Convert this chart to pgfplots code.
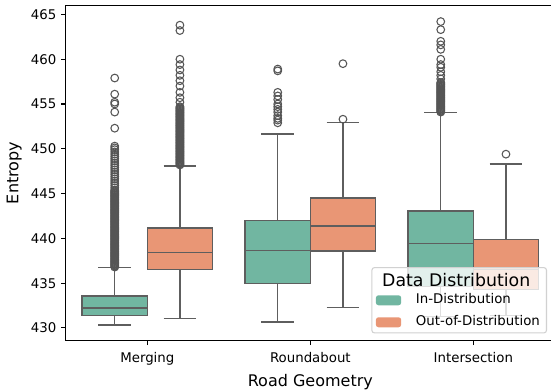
\documentclass[border=0pt]{standalone}
\usepackage{fontspec}
\setmainfont{DejaVu Sans}
\usepackage{pgfplots}
\pgfplotsset{compat=1.18}
\definecolor{idcol}{HTML}{71B6A1}
\definecolor{oodcol}{HTML}{E99675}
\definecolor{edgecol}{HTML}{5E5E5E}
\definecolor{flcol}{HTML}{555555}
% box: x0, x1, q1, median, q3, colour
\newcommand{\bxbox}[6]{%
  \addplot[draw=edgecol, line width=1.1pt, fill=#6, forget plot] coordinates {(#1,#3) (#2,#3) (#2,#5) (#1,#5)} -- cycle;
  \addplot[draw=edgecol, line width=1.1pt, forget plot] coordinates {(#1,#4) (#2,#4)};
}
% whiskers: centre, cap left, cap right, lower whisker, q1, q3, upper whisker
\newcommand{\bxwh}[7]{%
  \addplot[draw=edgecol, line width=1.1pt, forget plot] coordinates {(#1,#4) (#1,#5)};
  \addplot[draw=edgecol, line width=1.1pt, forget plot] coordinates {(#1,#6) (#1,#7)};
  \addplot[draw=edgecol, line width=1.1pt, forget plot] coordinates {(#2,#4) (#3,#4)};
  \addplot[draw=edgecol, line width=1.1pt, forget plot] coordinates {(#2,#7) (#3,#7)};
}
\pgfplotsset{
  fl/.style={only marks, mark=o, mark size=2.9pt, draw=flcol,
    mark options={draw=flcol, line width=0.8pt, solid}, forget plot},
}
\begin{document}
\begin{tikzpicture}
\begin{axis}[name=ax, at={(0,0)}, anchor=south west, scale only axis,
  width=366.75pt, height=251.25pt,
  xmin=-0.5, xmax=2.5, ymin=428.6, ymax=466.0,
  xtick={0,1,2}, xticklabels={Merging,Roundabout,Intersection},
  ytick={430,435,...,465},
  tick pos=left, tick align=outside, major tick length=3.5pt,
  tick style={black, line width=0.8pt},
  axis line style={black, line width=0.8pt},
  ticklabel style={font=\fontsize{10}{12}\selectfont},
  xticklabel style={yshift=-1.5pt},
  /pgf/number format/assume math mode=true,
  xlabel={Road Geometry}, ylabel={Entropy},
  label style={font=\fontsize{12}{14}\selectfont},
  legend image code/.code={\fill[#1, draw=none, fill opacity=1] (0pt,-3.75pt) rectangle (19pt,3.75pt);},
  legend style={at={(axis description cs:0.984,0.021)}, anchor=south east,
    draw=black!18, line width=0.8pt, rounded corners=2pt, fill=white, fill opacity=0.8, text opacity=1,
    inner xsep=3pt, inner ysep=3pt, row sep=6.5pt, column sep=9pt,
    nodes={inner ysep=0pt, text height=7.5pt, text depth=2.5pt},
    font=\fontsize{10}{12}\selectfont},
  legend cell align=left,
]
% ---------- Merging ----------
\bxwh{-0.2}{-0.3}{-0.1}{430.33}{431.41}{433.56}{436.72}
\bxbox{-0.4}{0.0}{431.41}{432.22}{433.56}{idcol}
\addplot[fl] table[row sep=\\, x expr=-0.2, y index=0]{v\\
436.8\\436.9\\437.0\\437.1\\437.2\\437.3\\437.4\\437.5\\437.6\\437.7\\437.8\\437.9\\
438.0\\438.1\\438.2\\438.3\\438.4\\438.5\\438.6\\438.7\\438.8\\438.9\\
439.0\\439.1\\439.2\\439.3\\439.4\\439.5\\439.6\\439.7\\439.8\\439.9\\
440.0\\440.1\\440.2\\440.3\\440.4\\440.5\\440.6\\440.7\\440.8\\440.9\\
441.0\\441.1\\441.2\\441.3\\441.4\\441.5\\441.6\\441.7\\441.8\\441.9\\
442.0\\442.1\\442.2\\442.3\\442.4\\442.5\\442.6\\442.7\\442.8\\442.9\\
443.0\\443.1\\443.2\\443.3\\443.4\\443.5\\443.6\\443.7\\443.8\\443.9\\
444.0\\444.1\\444.2\\444.3\\444.4\\444.5\\444.6\\444.7\\444.8\\444.9\\
445.0\\445.1\\445.2\\445.3\\445.4\\
445.65\\445.9\\446.15\\446.4\\446.65\\446.9\\447.15\\447.4\\447.65\\447.9\\448.15\\448.4\\448.65\\448.9\\
449.15\\449.4\\449.65\\449.9\\450.1\\450.3\\
452.3\\454.1\\455.0\\455.2\\456.1\\457.9\\};
\bxwh{0.2}{0.1}{0.3}{431.07}{436.54}{441.18}{448.09}
\bxbox{0.0}{0.4}{436.54}{438.43}{441.18}{oodcol}
\addplot[fl] table[row sep=\\, x expr=0.2, y index=0]{v\\
448.2\\448.3\\448.4\\448.5\\448.6\\448.7\\448.8\\448.9\\
449.0\\449.1\\449.2\\449.3\\449.4\\449.5\\449.6\\449.7\\449.8\\449.9\\
450.0\\450.1\\450.2\\450.3\\450.4\\450.5\\450.6\\450.7\\450.8\\450.9\\
451.0\\451.1\\451.2\\451.3\\451.4\\451.5\\451.6\\451.7\\451.8\\451.9\\
452.0\\452.1\\452.2\\452.3\\452.4\\452.5\\452.6\\452.7\\452.8\\452.9\\
453.0\\453.1\\453.2\\453.3\\453.4\\453.5\\453.6\\453.7\\453.8\\453.9\\
454.0\\454.1\\454.2\\454.3\\454.4\\454.5\\454.6\\454.7\\
455.2\\455.7\\456.3\\457.0\\457.6\\458.2\\458.8\\459.4\\460.0\\463.2\\463.8\\};
% ---------- Roundabout ----------
\bxwh{0.8}{0.7}{0.9}{430.66}{434.98}{442.0}{451.66}
\bxbox{0.6}{1.0}{434.98}{438.66}{442.0}{idcol}
\addplot[fl] table[row sep=\\, x expr=0.8, y index=0]{v\\
452.9\\453.2\\453.4\\453.7\\454.1\\454.4\\454.7\\455.0\\455.5\\455.9\\456.3\\458.7\\458.9\\};
\bxwh{1.2}{1.1}{1.3}{432.3}{438.61}{444.52}{452.96}
\bxbox{1.0}{1.4}{438.61}{441.4}{444.52}{oodcol}
\addplot[fl] table[row sep=\\, x expr=1.2, y index=0]{v\\
453.3\\459.5\\};
% ---------- Intersection ----------
\bxwh{1.8}{1.7}{1.9}{431.3}{434.6}{443.07}{454.04}
\bxbox{1.6}{2.0}{434.6}{439.4}{443.07}{idcol}
\addplot[fl] table[row sep=\\, x expr=1.8, y index=0]{v\\
454.1\\454.2\\454.3\\454.4\\454.5\\454.6\\454.7\\454.8\\454.9\\
455.0\\455.1\\455.2\\455.3\\455.4\\455.5\\455.6\\455.7\\455.8\\455.9\\
456.0\\456.1\\456.2\\456.3\\456.4\\456.5\\456.6\\456.7\\456.8\\456.9\\
457.0\\457.1\\457.2\\457.3\\457.4\\
457.8\\458.2\\458.6\\459.1\\459.4\\460.0\\461.1\\461.6\\462.0\\463.3\\464.2\\};
\bxwh{2.2}{2.1}{2.3}{431.4}{434.3}{439.88}{448.28}
\bxbox{2.0}{2.4}{434.3}{436.5}{439.88}{oodcol}
\addplot[fl] table[row sep=\\, x expr=2.2, y index=0]{v\\
449.4\\};
% ---------- legend ----------
\addlegendimage{empty legend}
\addlegendentry{\raisebox{-4pt}{\fontsize{13}{15}\selectfont\hspace{-25.25pt}Data Distribution}}
\addlegendimage{fill=idcol}
\addlegendentry{In-Distribution}
\addlegendimage{fill=oodcol}
\addlegendentry{Out-of-Distribution}
\end{axis}
\pgfresetboundingbox
\path ([shift={(-49.35pt,-37.1pt)}]ax.south west) rectangle ([shift={(-2.9pt,4.1pt)}]ax.north east);
\end{tikzpicture}
\end{document}
